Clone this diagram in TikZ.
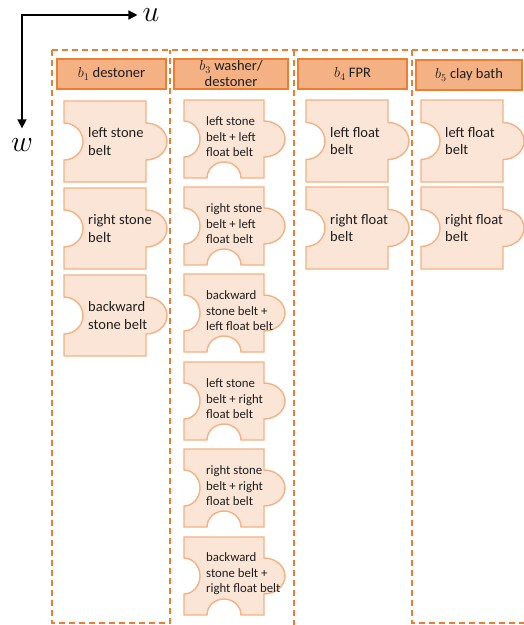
\RequirePackage{fix-cm}
\documentclass[tikz,border=0pt]{standalone}
\usepackage{fontspec}
\setmainfont{Carlito}
\usetikzlibrary{arrows.meta}
\definecolor{beltfill}{HTML}{FBE5D6}
\definecolor{beltborder}{HTML}{F4B183}
\definecolor{headfill}{HTML}{F4B183}
\definecolor{headborder}{HTML}{ED7D31}
\definecolor{darktext}{HTML}{1E1E1E}
\tikzset{
  axis/.style={{Triangle[length=9pt,width=9pt]}-{Triangle[length=9pt,width=9pt]},
               line width=1.6pt, draw=black},
  axislabel/.style={font=\fontsize{30}{32}\selectfont, inner sep=0pt},
  unitcol/.style={draw=headborder, line width=1.7pt, dash pattern=on 6pt off 4pt},
  head/.style={rectangle, draw=headborder, fill=headfill, line width=1.7pt,
               minimum height=30pt, inner sep=1pt, align=center, text=darktext,
               font=\fontsize{14.5}{16}\selectfont},
  piece/.style={draw=beltborder, fill=beltfill, line width=1.4pt},
  beltlabel/.style={anchor=west, align=left, inner sep=0pt, text=darktext,
                    font=\fontsize{14.5}{17.5}\selectfont},
  combolabel/.style={beltlabel, font=\fontsize{12.8}{15.5}\selectfont},
}
% piece size: width, height, knob, side notch, bottom notch
\def\pw{82}
\def\ph{81}
\def\kx{21}
\def\ky{18.5}
\def\nx{19}
\def\bx{17}
\def\by{16}
% single belt piece: name, top-left corner, text
\newcommand{\belt}[3]{%
  \begin{scope}[shift={#2}]
    \draw[piece] (0,0) -- (\pw,0) -- (\pw,\ph/2-\ky)
      arc[start angle=-90, end angle=90, x radius=\kx, y radius=\ky]
      -- (\pw,\ph) -- (0,\ph) -- (0,\ph/2+\ky)
      arc[start angle=90, end angle=-90, x radius=\nx, y radius=\ky] -- cycle;
    \node[beltlabel] (#1) at (\nx+5,\ph/2) {#3};
  \end{scope}}
% combined piece with a notch at the bottom
\newcommand{\combobelt}[3]{%
  \begin{scope}[shift={#2}]
    \draw[piece] (0,0) -- (\pw,0) -- (\pw,\ph/2-\ky)
      arc[start angle=-90, end angle=90, x radius=\kx, y radius=\ky]
      -- (\pw,\ph) -- (\pw/2+\bx,\ph)
      arc[start angle=0, end angle=-180, x radius=\bx, y radius=\by]
      -- (0,\ph) -- (0,\ph/2+\ky)
      arc[start angle=90, end angle=-90, x radius=\nx, y radius=\ky] -- cycle;
    \node[combolabel] (#1) at (\nx+6,\ph/2-2) {#3};
  \end{scope}}

\begin{document}
\begin{tikzpicture}[x=1pt, y=-1pt]
\clip (0,0) rectangle (524,625);

% Axes
\coordinate (orig) at (22,15);
\node[axislabel] (ulab) at (151,15) {$u$};
\node[axislabel] (wlab) at (22,145) {$w$};
\draw[axis] ([yshift=10pt]wlab.north) -- (orig) -- ([xshift=-5pt]ulab.west);

% Unit columns
\draw[unitcol] (52,50) -- (530,50);
\draw[unitcol] (52,50) -- (52,623) -- (170,623) -- (170,50);
\draw[unitcol] (294,50) -- (294,630);
\draw[unitcol] (412,50) -- (412,623) -- (530,623);

% Unit headers
\node[head, minimum width=109pt] (hdes)  at (111.5,74) {$b_1$ destoner};
\node[head, minimum width=114pt] (hwash) at (231,74)   {$b_3$ washer/\\destoner};
\node[head, minimum width=109pt] (hfpr)  at (352.5,74) {$b_4$ FPR};
\node[head, minimum width=106pt] (hclay) at (469,75)   {$b_5$ clay bath};

% Destoner belts
\belt{dsL}{(64,101)}{left stone\\belt}
\belt{dsR}{(64,188)}{right stone\\belt}
\belt{dsB}{(64,275)}{backward\\stone belt}

% Washer/destoner belt pairs
\def\pw{80}
\def\ph{78}
\def\kx{21}
\def\ky{18}
\def\nx{16}
\combobelt{wdLL}{(184,100)}{left stone\\belt + left\\float belt}
\combobelt{wdRL}{(184,187)}{right stone\\belt + left\\float belt}
\combobelt{wdBL}{(184,274)}{backward\\stone belt +\\left float belt}
\combobelt{wdLR}{(184,362)}{left stone\\belt + right\\float belt}
\combobelt{wdRR}{(184,449)}{right stone\\belt + right\\float belt}
\combobelt{wdBR}{(184,537)}{backward\\stone belt +\\right float belt}

% FPR and clay bath belts
\def\pw{82}
\def\ph{82}
\def\ky{18.5}
\def\nx{19}
\belt{fprL}{(306,100)}{left float\\belt}
\belt{fprR}{(306,187)}{right float\\belt}
\belt{cbL}{(421,100)}{left float\\belt}
\belt{cbR}{(421,187)}{right float\\belt}

\end{tikzpicture}
\end{document}
